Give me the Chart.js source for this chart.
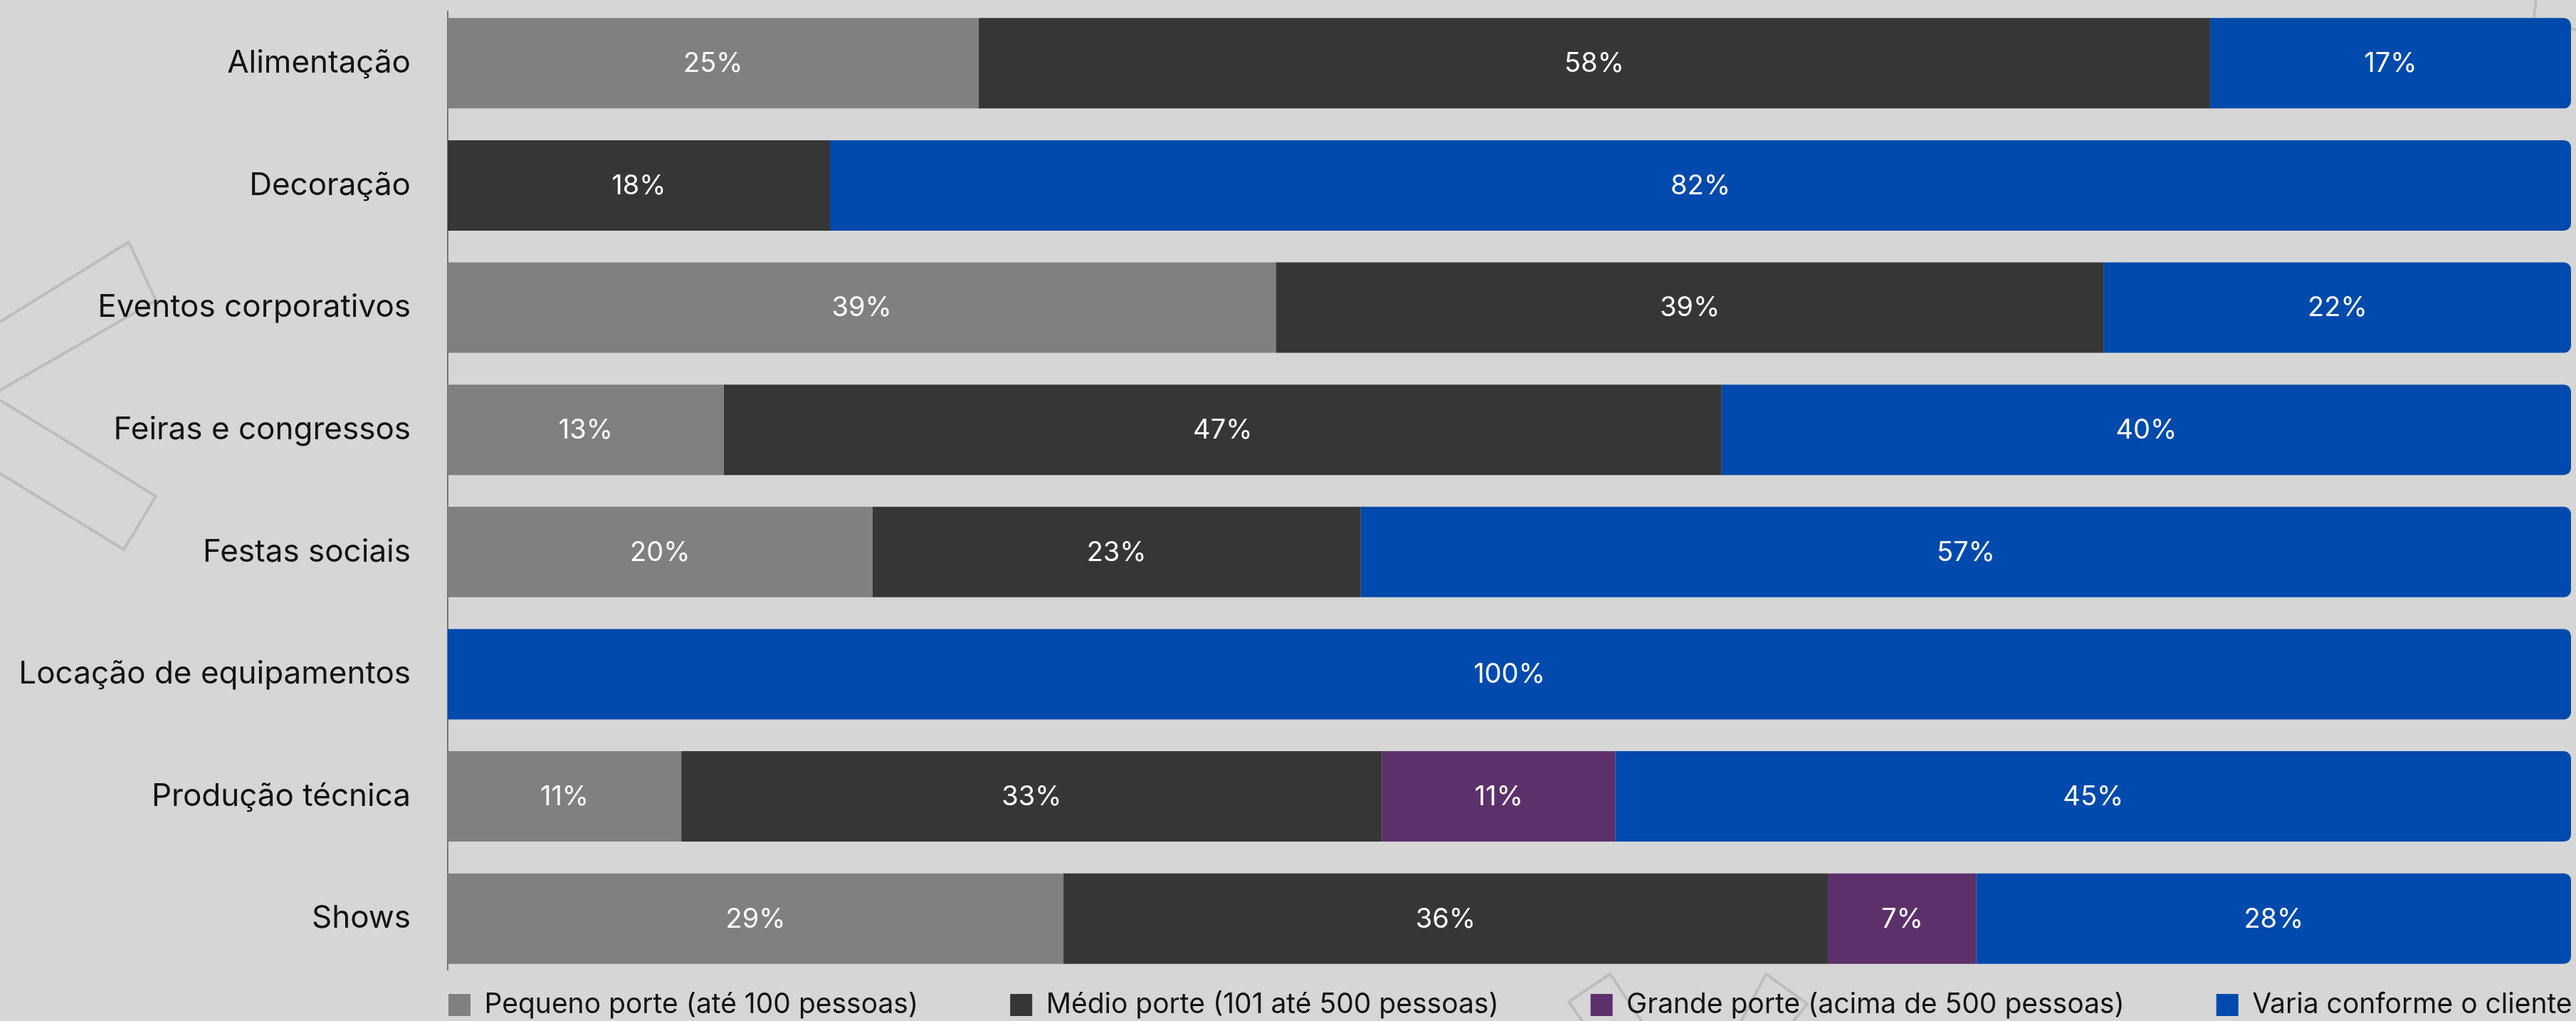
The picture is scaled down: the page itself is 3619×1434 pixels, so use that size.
<!DOCTYPE html>
<html lang="pt-BR">
<head>
<meta charset="utf-8">
<title>Porte dos eventos por segmento</title>
<script src="https://cdn.jsdelivr.net/npm/chart.js@4.4.1/dist/chart.umd.min.js"></script>
<style>
  html, body { margin: 0; padding: 0; background: #d6d6d6; }
  #myChart { display: block; }
</style>
</head>
<body>
<canvas id="myChart" width="3619" height="1434"></canvas>
<script>
// segmentos e percentuais por porte de evento
var segmentos = ['Alimentação', 'Decoração', 'Eventos corporativos', 'Feiras e congressos',
                 'Festas sociais', 'Locação de equipamentos', 'Produção técnica', 'Shows'];
var pequeno = [25, 0, 39, 13, 20, 0, 11, 29];
var medio   = [58, 18, 39, 47, 23, 0, 33, 36];
var grande  = [0, 0, 0, 0, 0, 0, 11, 7];
var varia   = [17, 82, 22, 40, 57, 100, 45, 28];
var nomesPorte = ['Pequeno porte (até 100 pessoas)', 'Médio porte (101 até 500 pessoas)',
                  'Grande porte (acima de 500 pessoas)', 'Varia conforme o cliente'];
var escalaX = [0, 100];

var FONTE = 'Inter';
var ESPACO_LEGENDA = 129;

// fundo cinza com os traços decorativos
var fundo = {
    id: 'fundo',
    beforeDraw: function(chart) {
        var ctx = chart.ctx;
        ctx.save();
        ctx.fillStyle = '#d6d6d6';
        ctx.fillRect(0, 0, chart.width, chart.height);
        ctx.strokeStyle = '#bdbdbd';
        ctx.lineWidth = 4;
        ctx.lineJoin = 'miter';
        var tracos = [
            [[0, 452], [181, 340], [219, 422], [0, 548]],
            [[0, 562], [219, 697], [174, 772], [0, 665]],
            [[2227, 1440], [2204, 1407], [2262, 1368], [2310, 1440]],
            [[2443, 1440], [2481, 1368], [2539, 1410], [2515, 1440]],
            [[3563, 0], [3555, 60]],
            [[3590, 34], [3619, 42]]
        ];
        tracos.forEach(function(t) {
            ctx.beginPath();
            ctx.moveTo(t[0][0], t[0][1]);
            for (var i = 1; i < t.length; i++) ctx.lineTo(t[i][0], t[i][1]);
            ctx.stroke();
        });
        ctx.restore();
    }
};

// linha do eixo vertical
var eixo = {
    id: 'eixo',
    beforeDatasetsDraw: function(chart) {
        var a = chart.chartArea, ctx = chart.ctx;
        ctx.save();
        ctx.strokeStyle = '#555555';
        ctx.lineWidth = 1.5;
        ctx.beginPath();
        ctx.moveTo(a.left, a.top + 12);
        ctx.lineTo(a.left, a.bottom - 13);
        ctx.stroke();
        ctx.restore();
    }
};

// percentuais escritos no meio de cada segmento
var rotulos = {
    id: 'rotulos',
    afterDatasetsDraw: function(chart) {
        var ctx = chart.ctx;
        ctx.save();
        ctx.font = '400 38px ' + FONTE;
        ctx.fillStyle = '#ffffff';
        ctx.textAlign = 'center';
        ctx.textBaseline = 'middle';
        chart.data.datasets.forEach(function(ds, i) {
            chart.getDatasetMeta(i).data.forEach(function(bar, j) {
                var v = ds.data[j];
                if (!v) return;
                var c = bar.getCenterPoint();
                ctx.fillText(v + '%', c.x, c.y + 1);
            });
        });
        ctx.restore();
    }
};

// legenda alinhada ao início da área das barras, logo abaixo dela
var posLegenda = {
    id: 'posLegenda',
    afterLayout: function(chart) {
        var lg = chart.legend, a = chart.chartArea;
        lg.left = a.left + 1 - ESPACO_LEGENDA;
        lg.right = a.right + ESPACO_LEGENDA + 10;
        lg.top = a.bottom + 16 - ESPACO_LEGENDA;
    }
};

var myChart;
var loadChart = function() {
    var ctx = document.getElementById('myChart');

    myChart = new Chart(ctx, {
        type: 'bar',
        data: {
            labels: segmentos,
            datasets: [
                { label: nomesPorte[0], data: pequeno, backgroundColor: '#808080' },
                { label: nomesPorte[1], data: medio, backgroundColor: '#363636' },
                { label: nomesPorte[2], data: grande, backgroundColor: '#5c306b' },
                {
                    label: nomesPorte[3],
                    data: varia,
                    backgroundColor: '#004aad',
                    borderSkipped: false,
                    borderRadius: { topLeft: 0, bottomLeft: 0, topRight: 10, bottomRight: 10 }
                }
            ]
        },
        options: {
            indexAxis: 'y',
            responsive: false,
            animation: false,
            barPercentage: 0.74,
            categoryPercentage: 1,
            layout: { padding: { top: 3, right: 7, bottom: 0, left: 0 } },
            scales: {
                x: {
                    stacked: true,
                    min: escalaX[0],
                    max: escalaX[1],
                    display: false
                },
                y: {
                    stacked: true,
                    grid: { display: false, drawTicks: false },
                    border: { display: false },
                    ticks: {
                        padding: 52,
                        color: '#121212',
                        font: { family: FONTE, size: 44, weight: '400' }
                    },
                    afterFit: function(scale) {
                        scale.width = 629;
                        scale.paddingTop = 0;
                        scale.paddingBottom = 0;
                    }
                }
            },
            plugins: {
                tooltip: { enabled: false },
                legend: {
                    position: 'bottom',
                    align: 'start',
                    fullSize: false,
                    maxHeight: 58,
                    labels: {
                        boxWidth: 31,
                        boxHeight: 31,
                        padding: ESPACO_LEGENDA,
                        color: '#121212',
                        font: { family: FONTE, size: 39, weight: '400' }
                    }
                }
            }
        },
        plugins: [fundo, eixo, rotulos, posLegenda]
    });
};
loadChart();
</script>
</body>
</html>
